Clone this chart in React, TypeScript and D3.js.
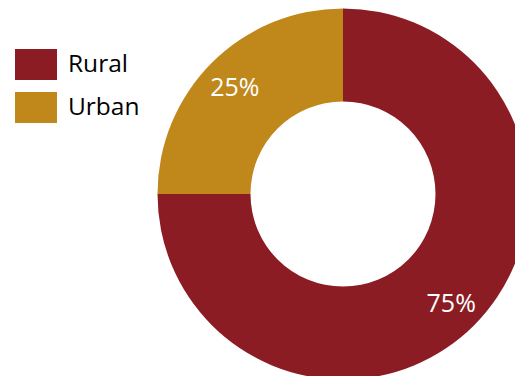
import React from "react";
import * as d3 from "d3";

const categories = ["Rural", "Urban"];
const values = [75, 25];
const labels = ["75%", "25%"];
const colors = ["#8C1C24", "#C0871B"];

export default function App() {
  const width = 515;
  const height = 376;
  const cx = 343;
  const cy = 194;
  const outerR = 185.5;
  const innerR = 92.5;
  const pie = d3.pie<number>().sort(null).value((d) => d)(values);
  const arc = d3.arc<d3.PieArcDatum<number>>().innerRadius(innerR).outerRadius(outerR);
  const labelArc = d3.arc<d3.PieArcDatum<number>>().innerRadius(153).outerRadius(153);
  const font = "'Open Sans', sans-serif";
  return (
    <svg width={width} height={height} style={{ position: "absolute", left: 0, top: 0 }}>
      <rect width={width} height={height} fill="#fff" />
      <g transform={`translate(${cx},${cy})`}>
        {pie.map((p, i) => (
          <path key={i} d={arc(p) || ""} fill={colors[i]} />
        ))}
        {pie.map((p, i) => {
          const [x, y] = labelArc.centroid(p);
          return (
            <text key={i} x={x} y={y} textAnchor="middle" dominantBaseline="central" fill="#fff" fontFamily={font} fontSize={25}>
              {labels[i]}
            </text>
          );
        })}
      </g>
      {categories.map((c, i) => (
        <g key={c} transform={`translate(15,${49 + i * 43})`}>
          <rect width={42} height={31} fill={colors[i]} />
          <text x={53} y={23} fontFamily={font} fontSize={24.5} fill="#000">
            {c}
          </text>
        </g>
      ))}
    </svg>
  );
}
